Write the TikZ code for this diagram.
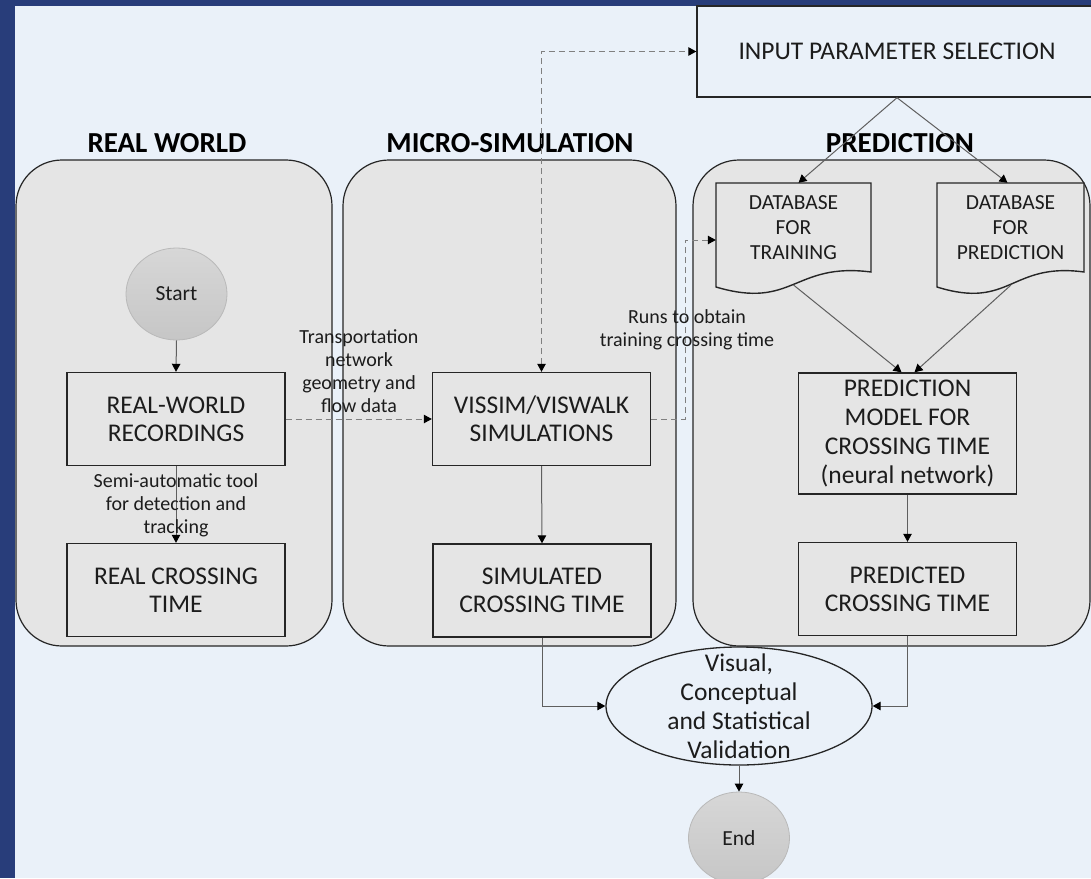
\documentclass[tikz,border=0pt]{standalone}
\usepackage{fontspec}
\setmainfont{Carlito}
\usetikzlibrary{arrows.meta,shapes.geometric,calc}
\definecolor{bgblue}{RGB}{40,61,122}
\definecolor{bglight}{RGB}{234,241,249}
\definecolor{lanefill}{RGB}{229,229,229}
\definecolor{boxline}{RGB}{38,38,38}
\definecolor{conn}{RGB}{95,95,95}
\definecolor{dashc}{RGB}{128,128,128}
\definecolor{termtop}{RGB}{215,215,215}
\definecolor{termbot}{RGB}{198,198,198}
\definecolor{termline}{RGB}{185,185,185}
\definecolor{txt}{RGB}{28,28,28}
\tikzset{
  mytip/.tip={Triangle[length=8pt,width=8.5pt,color=black]},
  lane/.style={draw=boxline, line width=1.2pt, fill=lanefill, rounded corners=46pt},
  lanetitle/.style={font=\fontsize{29}{34}\selectfont\bfseries, text=black, inner sep=0pt},
  procbox/.style={draw=boxline, line width=1.4pt, fill=lanefill, minimum width=218pt,
     minimum height=93pt, align=center, inner sep=0pt, text=txt,
     font=\fontsize{25.5}{28}\selectfont},
  docstyle/.style={draw=boxline, line width=1.4pt, fill=lanefill},
  doctext/.style={align=center, inner sep=0pt, text=txt, minimum width=155pt,
     minimum height=89pt, font=\fontsize{21.5}{25}\selectfont},
  term/.style={ellipse, minimum width=101pt, minimum height=92pt, inner sep=0pt,
     draw=termline, line width=0.8pt, top color=termtop, bottom color=termbot,
     text=txt, font=\fontsize{21.5}{24}\selectfont},
  lbl/.style={align=center, inner sep=0pt, text=txt, font=\fontsize{20}{22.8}\selectfont},
  arr/.style={draw=conn, line width=1pt, -mytip},
  plainln/.style={draw=conn, line width=1pt},
  dashln/.style={draw=dashc, line width=1pt, dash pattern=on 6pt off 4pt},
}
\newcommand{\mydocshape}[3]{\draw[docstyle] (#1,183) -- (#2,183) -- (#2,272) .. controls (#3,262) and (#3,310) .. (#1,287) -- cycle;}
\begin{document}
\begin{tikzpicture}[x=1pt,y=-1pt]
\useasboundingbox (0,0) rectangle (1091,878);
\clip (0,0) rectangle (1091,878);
\fill[bgblue] (0,0) rectangle (1091,878);
\fill[bglight] (15,6) rectangle (1091,878);

% swimlanes
\draw[lane] (16,160) rectangle (332,646);
\draw[lane] (343,160) rectangle (676,646);
\draw[lane] (693,160) rectangle (1090,646);

% lane titles
\node[lanetitle] (t1) at (167,143) {REAL WORLD};
\node[lanetitle] (t2) at (510,143) {MICRO-SIMULATION};
\node[lanetitle] (t3) at (900,143) {PREDICTION};

% input parameter selection
\node[draw=boxline, line width=1.4pt, fill=bglight, minimum width=400pt, minimum height=91pt,
      inner sep=0pt, text=txt, font=\fontsize{25.5}{28}\selectfont] (ips) at (897,51.5)
      {INPUT PARAMETER SELECTION};

% real world
\node[term] (start) at (176.5,294) {Start};
\node[procbox] (rwr) at (176,419) {REAL-WORLD\\RECORDINGS};
\node[procbox] (rct) at (176,590) {REAL CROSSING\\TIME};

% micro-simulation
\node[procbox] (vis) at (541.5,419) {VISSIM/VISWALK\\SIMULATIONS};
\node[procbox] (sct) at (542,590.5) {SIMULATED\\CROSSING TIME};

% prediction
\mydocshape{716}{871}{793.5}
\mydocshape{937}{1084}{1010.5}
\node[doctext] (dbt) at (793.5,227.5) {DATABASE\\FOR\\TRAINING};
\node[doctext] (dbp) at (1010.5,227.5) {DATABASE\\FOR\\PREDICTION};
\coordinate (dbtb) at (793.5,285);
\coordinate (dbpb) at (1011,285);
\node[procbox, minimum height=121pt, font=\fontsize{25.5}{29}\selectfont] (pm) at (907.5,433.5)
      {PREDICTION\\MODEL FOR\\CROSSING TIME\\(neural network)};
\node[procbox] (pct) at (907.5,589) {PREDICTED\\CROSSING TIME};

% validation and end
\node[ellipse, draw=boxline, line width=1.3pt, fill=bglight, minimum width=266pt,
      minimum height=118pt, inner sep=0pt] (val) at (739,706) {};
\node[lbl, font=\fontsize{25.5}{29}\selectfont] (valtext) at (val.center)
      {Visual,\\Conceptual\\and Statistical\\Validation};
\node[term] (end) at (739,838) {End};

% solid connectors
\draw[arr] (start.south) -- (rwr.north);
\draw[arr] (rwr.south) -- (rct.north);
\draw[arr] (vis.south) -- (sct.north);
\draw[arr] (pm.south) -- (pct.north);
\draw[arr] (ips.south) -- ($(dbt.north)+(5,0)$);
\draw[arr] (ips.south) -- ($(dbp.north)+(-3,0)$);
\draw[arr] (dbtb) -- ($(pm.north)+(-6,0)$);
\draw[arr] (dbpb) -- ($(pm.north)+(7,0)$);
\draw[arr] (sct.south) |- (val.west);
\draw[arr] (pct.south) |- (val.east);
\draw[arr] (val.south) -- (end.north);

% dashed connectors
\draw[dashln, -mytip] (rwr.east) -- (vis.west);
\draw[dashln, -mytip] (vis.east) -- ++(34,0) |- ($(dbt.west)+(0,12.5)$);
\draw[dashln, mytip-mytip] (vis.north) |- (ips.west);

% connector labels
\node[lbl] (l1) at (359,371) {Transportation\\network\\geometry and\\flow data};
\node[lbl] (l2) at (176,505) {Semi-automatic tool\\for detection and\\tracking};
\node[lbl] (l3) at (687,329.5) {Runs to obtain\\training crossing time};
\end{tikzpicture}
\end{document}
